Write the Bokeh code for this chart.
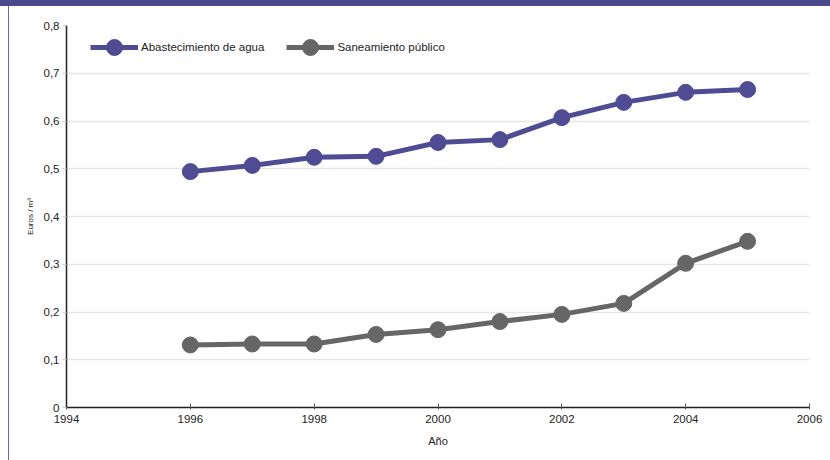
from bokeh.plotting import figure
from bokeh.models import (FixedTicker, CustomJSTickFormatter, Legend, LegendItem, Div)
from bokeh.layouts import column, row
from bokeh.embed import file_html
from bokeh.resources import INLINE

years = [1996, 1997, 1998, 1999, 2000, 2001, 2002, 2003, 2004, 2005]
abastecimiento = [0.494, 0.507, 0.524, 0.526, 0.555, 0.561, 0.607, 0.639, 0.660, 0.666]
saneamiento = [0.131, 0.133, 0.133, 0.153, 0.163, 0.180, 0.195, 0.218, 0.302, 0.348]
series_names = ["Abastecimiento de agua", "Saneamiento público"]
x_ticks = [1994, 1996, 1998, 2000, 2002, 2004, 2006]
y_ticks = [0, 0.1, 0.2, 0.3, 0.4, 0.5, 0.6, 0.7, 0.8]

PURPLE = "#4f4c93"
GRAY = "#666666"
FONT = "Liberation Sans"

p = figure(width=821, height=454, x_range=(1994, 2006), y_range=(0, 0.8),
           output_backend="svg", toolbar_location=None,
           min_border_left=57, min_border_right=21, min_border_top=19, min_border_bottom=53,
           margin=0)
p.outline_line_color = None
p.background_fill_color = "white"
p.border_fill_color = "white"

p.xgrid.grid_line_color = None
p.ygrid.grid_line_color = "#e6e6e6"
p.ygrid.grid_line_width = 1.5

p.xaxis.ticker = FixedTicker(ticks=x_ticks)
p.yaxis.ticker = FixedTicker(ticks=y_ticks)
p.yaxis.formatter = CustomJSTickFormatter(code="""
return tick == 0 ? "0" : tick.toFixed(1).replace(".", ",");
""")
p.xaxis.formatter = CustomJSTickFormatter(code="return tick.toFixed(0);")

for ax in (p.xaxis, p.yaxis):
    ax.axis_line_color = "#222222"
    ax.axis_line_width = 1.5
    ax.major_label_text_font = FONT
    ax.major_label_text_font_size = "11.5px"
    ax.major_label_text_color = "#222222"
    ax.axis_label_text_font = FONT
    ax.axis_label_text_font_style = "normal"
    ax.axis_label_text_color = "#222222"
    ax.minor_tick_line_color = None

p.xaxis.major_tick_in = 4
p.xaxis.major_tick_out = 2
p.xaxis.major_tick_line_color = "#555555"
p.xaxis.major_label_standoff = 5
p.xaxis.axis_label = "Año"
p.xaxis.axis_label_text_font_size = "11px"
p.xaxis.axis_label_standoff = 9

p.yaxis.major_tick_in = 0
p.yaxis.major_tick_out = 4
p.yaxis.major_tick_line_color = "#cccccc"
p.yaxis.major_label_standoff = 3
p.yaxis.axis_label = "Euros / m³"
p.yaxis.axis_label_text_font_size = "8px"
p.yaxis.axis_label_standoff = 6

l1 = p.line(years, abastecimiento, line_color=PURPLE, line_width=5)
c1 = p.scatter(years, abastecimiento, size=16, fill_color=PURPLE, line_color=PURPLE)
l2 = p.line(years, saneamiento, line_color=GRAY, line_width=5)
c2 = p.scatter(years, saneamiento, size=16, fill_color=GRAY, line_color=GRAY)

legend = Legend(items=[LegendItem(label=series_names[0], renderers=[l1, c1]),
                       LegendItem(label=series_names[1], renderers=[l2, c2])],
                orientation="horizontal", location=(24, 340))
legend.margin = 0
legend.padding = 0
legend.border_line_color = None
legend.background_fill_alpha = 0
legend.glyph_width = 48
legend.glyph_height = 40
legend.label_standoff = 3
legend.spacing = 22
legend.label_text_font = FONT
legend.label_text_font_size = "11.5px"
legend.label_text_color = "#222222"
p.add_layout(legend)

top_bar = Div(width=830, height=6, margin=0, styles={"background-color": "#4b4a8e"})
left_bar = Div(width=9, height=454, margin=0,
               styles={"border-right": "1.5px solid #6a68b0", "box-sizing": "border-box"})
layout = column(top_bar, row(left_bar, p, spacing=0, margin=0), spacing=0, margin=0)

open("out.html", "w").write(file_html(layout, INLINE))
